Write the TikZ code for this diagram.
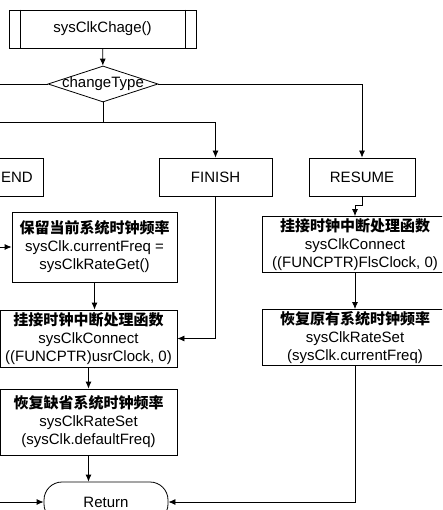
\documentclass[tikz,border=0pt]{standalone}
\usepackage{fontspec}
\setmainfont{Liberation Sans}
\newfontfamily\cjk{Noto Sans CJK SC}
\usetikzlibrary{shapes.geometric,arrows.meta}

\tikzset{
	box/.style={draw, align=center, inner sep=2pt, font=\fontsize{15}{18}\selectfont},
	decision/.style={draw, diamond, inner sep=0pt, minimum width=110pt, minimum height=36pt},
	terminal/.style={draw, rounded corners=18pt, minimum width=124pt, minimum height=40pt, font=\fontsize{15}{18}\selectfont},
	flow/.style={-{Latex[length=7pt,width=6pt]}}
}

\begin{document}
\begin{tikzpicture}[x=1pt,y=-1pt,line width=0.8pt]
	\path[use as bounding box, clip] (0,0) rectangle (442,510);
	\coordinate (edge) at (-40,0);

	\node[box, minimum width=187pt, minimum height=38pt] (start) at (102.5,29) {sysClkChage()};
	\draw ([xshift=12pt]start.north west) -- ([xshift=12pt]start.south west);
	\draw ([xshift=-11pt]start.north east) -- ([xshift=-11pt]start.south east);
	\node[decision, label={[font=\fontsize{15}{18}\selectfont]center:changeType}] (type) at (103,84) {};

	\node[box, minimum width=93pt, minimum height=38pt] (suspend) at (-3.5,177) {\hphantom{SUSP}END};
	\node[box, minimum width=113pt, minimum height=38pt] (finish) at (215.5,177) {FINISH};
	\node[box, minimum width=106pt, minimum height=38pt] (resume) at (362,177) {RESUME};

	\node[box, minimum width=165pt, minimum height=70pt] (save) at (94.5,247) {{\cjk\bfseries 保留当前系统时钟频率}\\sysClk.currentFreq =\\sysClkRateGet()};
	\node[box, minimum width=177pt, minimum height=57pt] (conn) at (88.5,338.5) {{\cjk\bfseries 挂接时钟中断处理函数}\\sysClkConnect\\((FUNCPTR)usrClock, 0)};
	\node[box, minimum width=177pt, minimum height=66pt] (rest) at (88.5,422) {{\cjk\bfseries 恢复缺省系统时钟频率}\\sysClkRateSet\\(sysClk.defaultFreq)};
	\node[terminal] (ret) at (106,502) {Return};

	\node[box, minimum width=186pt, minimum height=55pt] (hook) at (355,244.5) {{\cjk\bfseries 挂接时钟中断处理函数}\\sysClkConnect\\((FUNCPTR)FlsClock, 0)};
	\node[box, minimum width=186pt, minimum height=55pt] (back) at (355,337.5) {{\cjk\bfseries 恢复原有系统时钟频率}\\sysClkRateSet\\(sysClk.currentFreq)};

	\coordinate (split) at ([yshift=-20pt]type.south);
	\draw[flow] (start) -- (type);
	\draw (type.west) -- (type.west -| edge);
	\draw[flow] (type.east) -| (resume.north);
	\draw (type.south) -- (split);
	\draw[flow] (split) -| (finish.north);
	\draw[flow] (split) -| (suspend.north);
	\draw[flow] (suspend.south) |- (save.west);
	\draw[flow] (save.south) -- (save.south |- conn.north);
	\draw[flow] (finish.south) |- (conn.east);
	\draw[flow] (conn.south) -- (rest.north);
	\draw[flow] (rest.south) -- (rest.south |- ret.north);
	\draw[flow] (resume.south) -- ([yshift=-9pt]resume.south) -| (hook.north);
	\draw[flow] (hook.south) -- (back.north);
	\draw[flow] (back.south) |- (ret.east);
	\draw[flow] (ret.west -| edge) -- (ret.west);
\end{tikzpicture}
\end{document}
